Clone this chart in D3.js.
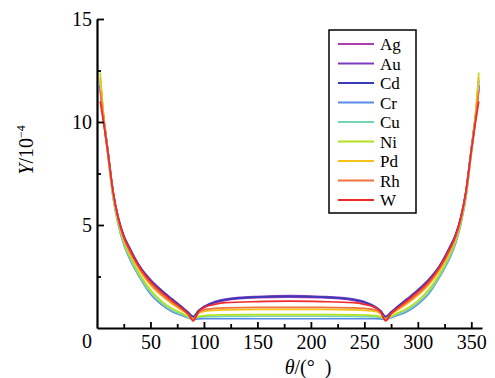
<!DOCTYPE html>
<html>
<head>
<meta charset="utf-8">
<script src="https://cdn.jsdelivr.net/npm/d3@7"></script>
<style>
  body { margin: 0; background: #fff; }
  svg text { fill: #000; }
</style>
</head>
<body>
<div id="chart"></div>
<script>
// ... data
const theta = [3, 6, 10, 15, 20, 25, 30, 40, 50, 60, 70, 80, 85, 90, 95, 100, 110, 120, 150, 180,
               210, 240, 250, 260, 265, 270, 275, 280, 290, 300, 310, 320, 330, 335, 340, 345, 350, 354, 357];

const Ag = [11.7, 10.3, 8.65, 6.6, 5.3, 4.45, 3.88, 2.95, 2.3, 1.8, 1.38, 0.97, 0.75, 0.52, 0.82, 1.0, 1.22, 1.34, 1.47, 1.5,
            1.47, 1.34, 1.22, 1.0, 0.82, 0.52, 0.75, 0.97, 1.38, 1.8, 2.3, 2.95, 3.88, 4.45, 5.3, 6.6, 8.65, 10.3, 11.7];
const Au = [11.6, 10.3, 8.7, 6.65, 5.35, 4.5, 3.95, 3.0, 2.35, 1.85, 1.42, 1.0, 0.78, 0.55, 0.85, 1.05, 1.28, 1.4, 1.53, 1.57,
            1.53, 1.4, 1.28, 1.05, 0.85, 0.55, 0.78, 1.0, 1.42, 1.85, 2.35, 3.0, 3.95, 4.5, 5.35, 6.65, 8.7, 10.3, 11.6];
const Cd = [11.8, 10.3, 8.65, 6.6, 5.3, 4.47, 3.92, 2.97, 2.32, 1.82, 1.4, 0.98, 0.76, 0.54, 0.84, 1.02, 1.25, 1.37, 1.5, 1.53,
            1.5, 1.37, 1.25, 1.02, 0.84, 0.54, 0.76, 0.98, 1.4, 1.82, 2.32, 2.97, 3.92, 4.47, 5.3, 6.6, 8.65, 10.3, 11.8];
const Cr = [12.0, 10.2, 8.45, 6.35, 5.0, 4.05, 3.42, 2.45, 1.65, 1.15, 0.8, 0.6, 0.5, 0.42, 0.44, 0.45, 0.45, 0.45, 0.45, 0.45,
            0.45, 0.45, 0.45, 0.45, 0.44, 0.42, 0.5, 0.6, 0.8, 1.15, 1.65, 2.45, 3.42, 4.05, 5.0, 6.35, 8.45, 10.2, 12.0];
const Cu = [12.1, 10.3, 8.5, 6.4, 5.05, 4.1, 3.48, 2.5, 1.72, 1.22, 0.86, 0.64, 0.53, 0.44, 0.52, 0.54, 0.55, 0.56, 0.57, 0.57,
            0.57, 0.56, 0.55, 0.54, 0.52, 0.44, 0.53, 0.64, 0.86, 1.22, 1.72, 2.5, 3.48, 4.1, 5.05, 6.4, 8.5, 10.3, 12.1];
const Ni = [12.4, 10.4, 8.55, 6.45, 5.1, 4.2, 3.58, 2.6, 1.85, 1.32, 0.95, 0.7, 0.57, 0.45, 0.55, 0.6, 0.63, 0.64, 0.65, 0.65,
            0.65, 0.64, 0.63, 0.6, 0.55, 0.45, 0.57, 0.7, 0.95, 1.32, 1.85, 2.6, 3.58, 4.2, 5.1, 6.45, 8.55, 10.4, 12.4];
const Pd = [12.2, 10.4, 8.6, 6.55, 5.2, 4.32, 3.72, 2.78, 2.08, 1.58, 1.18, 0.84, 0.66, 0.45, 0.7, 0.8, 0.86, 0.88, 0.9, 0.9,
            0.9, 0.88, 0.86, 0.8, 0.7, 0.45, 0.66, 0.84, 1.18, 1.58, 2.08, 2.78, 3.72, 4.32, 5.2, 6.55, 8.6, 10.4, 12.2];
const Rh = [11.5, 10.2, 8.6, 6.6, 5.25, 4.38, 3.78, 2.85, 2.15, 1.65, 1.25, 0.88, 0.68, 0.42, 0.75, 0.88, 0.95, 0.98, 1.0, 1.0,
            1.0, 0.98, 0.95, 0.88, 0.75, 0.42, 0.68, 0.88, 1.25, 1.65, 2.15, 2.85, 3.78, 4.38, 5.25, 6.6, 8.6, 10.2, 11.5];
const W  = [11.0, 10.0, 8.6, 6.62, 5.3, 4.43, 3.86, 2.93, 2.25, 1.75, 1.33, 0.93, 0.7, 0.35, 0.8, 1.0, 1.15, 1.23, 1.28, 1.3,
            1.28, 1.23, 1.15, 1.0, 0.8, 0.35, 0.7, 0.93, 1.33, 1.75, 2.25, 2.93, 3.86, 4.43, 5.3, 6.62, 8.6, 10.0, 11.0];

const names = ['Ag', 'Au', 'Cd', 'Cr', 'Cu', 'Ni', 'Pd', 'Rh', 'W'];
const colors = ['#b03cb4', '#7a3cc0', '#3a3ab8', '#5a8ae6', '#74d4b4', '#b4e01e', '#f4c21a', '#f0743c', '#f02a2a'];
const seriesValues = [Ag, Au, Cd, Cr, Cu, Ni, Pd, Rh, W];

const xTicks = [50, 100, 150, 200, 250, 300, 350];
const xMinor = [25, 75, 125, 175, 225, 275, 325];
const yTicks = [5, 10, 15];
const yMinor = [2.5, 7.5, 12.5];

// ... chart area
const width = 495, height = 378;
const fontStack = '"Liberation Serif", "Times New Roman", serif';
const fontSize = '20px';

const x = d3.scaleLinear().domain([0, 360]).range([97, 482]);
const y = d3.scaleLinear().domain([0, 15]).range([328, 19]);

const svg = d3.select('#chart').append('svg')
    .attr('width', width)
    .attr('height', height);

// ... curves
const line = d3.line()
    .x(d => x(d[0]))
    .y(d => y(d[1]))
    .curve(d3.curveMonotoneX);

seriesValues.forEach((vals, i) => {
    svg.append('path')
        .datum(theta.map((t, j) => [t, vals[j]]))
        .attr('fill', 'none')
        .attr('stroke', colors[i])
        .attr('stroke-width', 1.7)
        .attr('d', line);
});

// ... axes
const xAxis = svg.append('g')
    .attr('transform', 'translate(0,' + y(0) + ')')
    .call(d3.axisBottom(x).tickValues(xTicks).tickSize(-6).tickSizeOuter(0).tickPadding(7));
const xAxisMinor = svg.append('g')
    .attr('transform', 'translate(0,' + y(0) + ')')
    .call(d3.axisBottom(x).tickValues(xMinor).tickSize(-4).tickSizeOuter(0).tickFormat(''));
xAxisMinor.select('.domain').remove();

const yAxis = svg.append('g')
    .attr('transform', 'translate(' + x(0) + ',0)')
    .call(d3.axisLeft(y).tickValues(yTicks).tickSize(-7).tickSizeOuter(0).tickPadding(5));
const yAxisMinor = svg.append('g')
    .attr('transform', 'translate(' + x(0) + ',0)')
    .call(d3.axisLeft(y).tickValues(yMinor).tickSize(-4).tickSizeOuter(0).tickFormat(''));
yAxisMinor.select('.domain').remove();

[xAxis, yAxis, xAxisMinor, yAxisMinor].forEach(g => {
    g.attr('font-family', fontStack).attr('font-size', fontSize);
    g.selectAll('.domain').attr('stroke', '#000').attr('stroke-width', 2.2);
    g.selectAll('.tick line').attr('stroke', '#000').attr('stroke-width', 1.8);
    g.selectAll('.tick text').attr('fill', '#000');
});

// shared origin label
svg.append('text')
    .attr('x', x(0) - 10)
    .attr('y', y(0) + 20)
    .attr('text-anchor', 'middle')
    .attr('font-family', fontStack)
    .attr('font-size', fontSize)
    .text('0');

// ... axis titles
const xTitle = svg.append('text')
    .attr('x', 308)
    .attr('y', 374)
    .attr('text-anchor', 'middle')
    .attr('font-family', fontStack)
    .attr('font-size', fontSize);
xTitle.append('tspan').attr('font-style', 'italic').text('θ');
xTitle.append('tspan').text('/(°\u2002)');

const yTitle = svg.append('text')
    .attr('transform', 'translate(33,150) rotate(-90)')
    .attr('text-anchor', 'middle')
    .attr('font-family', fontStack)
    .attr('font-size', fontSize);
yTitle.append('tspan').attr('font-style', 'italic').text('Y');
yTitle.append('tspan').text('/10');
yTitle.append('tspan').attr('dy', -8).attr('font-size', '12px').text('−4');

// ... legend
const legend = svg.append('g');
legend.append('rect')
    .attr('x', 329).attr('y', 30)
    .attr('width', 87).attr('height', 183)
    .attr('fill', '#fff')
    .attr('stroke', '#000')
    .attr('stroke-width', 1.5);

names.forEach((n, i) => {
    const ly = 44 + i * 19.5;
    legend.append('line')
        .attr('x1', 338).attr('x2', 374)
        .attr('y1', ly).attr('y2', ly)
        .attr('stroke', colors[i])
        .attr('stroke-width', 1.8);
    legend.append('text')
        .attr('x', 380)
        .attr('y', ly + 6)
        .attr('font-family', fontStack)
        .attr('font-size', '17px')
        .text(n);
});
</script>
</body>
</html>
